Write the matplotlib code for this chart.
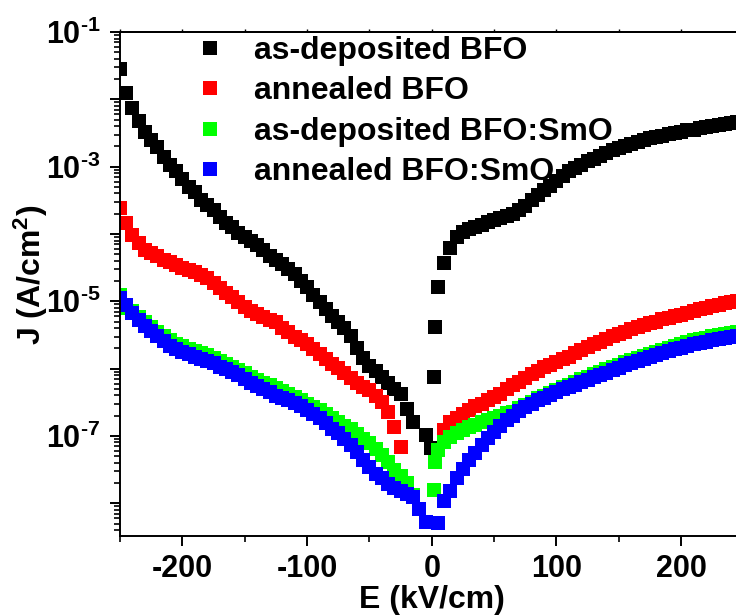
import numpy as np
import matplotlib
matplotlib.use("Agg")
import matplotlib.pyplot as plt
from matplotlib.ticker import FixedLocator, LogLocator, FuncFormatter, NullFormatter

plt.rcParams['font.family'] = ['Liberation Sans', 'DejaVu Sans']
plt.rcParams['font.weight'] = 'bold'
plt.rcParams['mathtext.fontset'] = 'custom'
plt.rcParams['mathtext.rm'] = 'Liberation Sans:bold'
plt.rcParams['mathtext.bf'] = 'Liberation Sans:bold'
plt.rcParams['mathtext.it'] = 'Liberation Sans:bold'
plt.rcParams['axes.unicode_minus'] = False

# Electric field grid (kV/cm), -250 ... 250 in steps of 5
E = np.arange(-250, 255, 5)
nan = np.nan

# log10 J (A/cm^2), one value per E (nan = no point)
logJ_asdep_BFO = [
    -1.55, -1.91, -2.13, -2.32, -2.49, -2.60, -2.71, -2.85, -2.98, -3.07,
    -3.18, -3.30, -3.38, -3.50, -3.57, -3.64, -3.75, -3.84, -3.90, -3.98,
    -4.05, -4.11, -4.17, -4.24, -4.32, -4.38, -4.45, -4.52, -4.60, -4.70,
    -4.79, -4.90, -5.01, -5.11, -5.22, -5.31, -5.39, -5.52, -5.69, -5.84,
    -5.96, -6.03, -6.13, -6.22, -6.31, -6.38, -6.60, -6.79, nan, -6.99,
    nan, -4.79, -4.43, -4.21, -4.05, -3.97, -3.93, -3.89, -3.86, -3.82,
    -3.79, -3.76, -3.73, -3.70, -3.65, -3.59, -3.50, -3.42, -3.35, -3.28,
    -3.21, -3.14, -3.07, -3.02, -2.97, -2.92, -2.88, -2.84, -2.80, -2.76,
    -2.73, -2.70, -2.67, -2.64, -2.61, -2.58, -2.56, -2.54, -2.52, -2.50,
    -2.48, -2.46, -2.45, -2.43, -2.41, -2.39, -2.38, -2.37, -2.35, -2.34,
    -2.33]
E_asdep_BFO_extra = [-1.0, 1.5, 3.0]
logJ_asdep_BFO_extra = [-7.18, -6.12, -5.38]

logJ_ann_BFO = [
    -3.62, -3.84, -4.01, -4.13, -4.24, -4.28, -4.33, -4.38, -4.42, -4.46,
    -4.50, -4.54, -4.57, -4.61, -4.66, -4.73, -4.80, -4.88, -4.94, -5.01,
    -5.08, -5.14, -5.19, -5.23, -5.28, -5.31, -5.39, -5.46, -5.53, -5.58,
    -5.64, -5.71, -5.79, -5.86, -5.93, -5.99, -6.06, -6.14, -6.21, -6.27,
    -6.32, -6.40, -6.50, -6.65, -6.87, -7.16, nan, nan, nan, nan,
    nan, nan, -6.91, -6.79, -6.74, -6.67, -6.61, -6.56, -6.52, -6.47,
    -6.42, -6.37, -6.30, -6.25, -6.20, -6.14, -6.08, -6.03, -5.98, -5.94,
    -5.90, -5.86, -5.82, -5.77, -5.72, -5.68, -5.64, -5.60, -5.56, -5.52,
    -5.48, -5.45, -5.41, -5.38, -5.35, -5.32, -5.30, -5.27, -5.25, -5.22,
    -5.20, -5.17, -5.15, -5.12, -5.10, -5.07, -5.05, -5.03, -5.01, -4.99,
    -4.97]

logJ_asdep_SmO = [
    -4.90, -5.10, -5.15, -5.23, -5.31, -5.38, -5.45, -5.52, -5.58, -5.63,
    -5.67, -5.71, -5.74, -5.77, -5.80, -5.84, -5.89, -5.93, -5.97, -6.02,
    -6.07, -6.12, -6.17, -6.21, -6.25, -6.29, -6.33, -6.37, -6.42, -6.47,
    -6.52, -6.57, -6.62, -6.68, -6.74, -6.80, -6.85, -6.90, -6.97, -7.04,
    -7.10, -7.20, -7.28, -7.38, -7.51, -7.60, -7.70, -7.88, nan, nan,
    nan, -7.21, -7.09, -7.01, -6.96, -6.91, -6.87, -6.83, -6.80, -6.76,
    -6.73, -6.70, -6.66, -6.64, -6.59, -6.54, -6.49, -6.44, -6.40, -6.36,
    -6.32, -6.27, -6.24, -6.20, -6.16, -6.12, -6.08, -6.05, -6.01, -5.97,
    -5.94, -5.90, -5.87, -5.84, -5.81, -5.78, -5.75, -5.72, -5.69, -5.66,
    -5.63, -5.61, -5.58, -5.56, -5.54, -5.52, -5.50, -5.48, -5.47, -5.45,
    -5.44]
E_asdep_SmO_extra = [1.5, 3.0]
logJ_asdep_SmO_extra = [-7.80, -7.39]

logJ_ann_SmO = [
    -4.95, -5.05, -5.18, -5.28, -5.36, -5.44, -5.51, -5.59, -5.66, -5.71,
    -5.75, -5.78, -5.82, -5.85, -5.88, -5.92, -5.97, -6.01, -6.05, -6.10,
    -6.16, -6.21, -6.26, -6.31, -6.35, -6.40, -6.44, -6.47, -6.51, -6.55,
    -6.61, -6.67, -6.74, -6.81, -6.89, -6.96, -7.04, -7.13, -7.24, -7.35,
    -7.46, -7.56, -7.63, -7.71, -7.77, -7.82, -7.86, -7.90, -8.08, -8.28,
    nan, -8.30, -7.97, -7.82, -7.63, -7.49, -7.36, -7.25, -7.13, -7.03,
    -6.94, -6.85, -6.77, -6.70, -6.63, -6.57, -6.52, -6.47, -6.43, -6.39,
    -6.35, -6.31, -6.28, -6.24, -6.20, -6.17, -6.13, -6.10, -6.06, -6.02,
    -5.99, -5.95, -5.92, -5.89, -5.86, -5.83, -5.80, -5.77, -5.74, -5.71,
    -5.69, -5.66, -5.64, -5.62, -5.60, -5.58, -5.56, -5.54, -5.53, -5.51,
    -5.50]

labels = ['as-deposited BFO', 'annealed BFO', 'as-deposited BFO:SmO', 'annealed BFO:SmO']
colors = ['#000000', '#ff0000', '#00ff00', '#0000ff']
x_ticks = [-200, -100, 0, 100, 200]
x_minor_ticks = [-250, -150, -50, 50, 150, 250]
top_ticks = [-250, -200, -150, -100, -50, 0, 50, 100, 150, 200, 250]


def series(logj, e_extra=(), l_extra=()):
    e = np.concatenate([E, np.asarray(e_extra, float)])
    l = np.concatenate([np.asarray(logj, float), np.asarray(l_extra, float)])
    order = np.argsort(e)
    e, l = e[order], l[order]
    m = ~np.isnan(l)
    return e[m], 10.0 ** l[m]


data = [
    series(logJ_asdep_BFO, E_asdep_BFO_extra, logJ_asdep_BFO_extra),
    series(logJ_ann_BFO),
    series(logJ_asdep_SmO, E_asdep_SmO_extra, logJ_asdep_SmO_extra),
    series(logJ_ann_SmO),
]

fig = plt.figure(figsize=(7.36, 6.15), dpi=100)
ax = fig.add_axes([120 / 736, 79 / 615, 623.5 / 736, 504 / 615])

for (x, y), c, lab in zip(data, colors, labels):
    ax.plot(x, y, linestyle='none', marker='s', markersize=9.6,
            markeredgewidth=0, color=c, label=lab)

ax.set_yscale('log')
ax.set_xlim(-250, 250)
ax.set_ylim(10 ** -8.486, 1e-1)

ax.xaxis.set_major_locator(FixedLocator(x_ticks))
ax.xaxis.set_minor_locator(FixedLocator(x_minor_ticks))
ax.yaxis.set_major_locator(LogLocator(base=10, numticks=20))
ax.yaxis.set_minor_locator(LogLocator(base=10, subs=np.arange(2, 10), numticks=20))
ax.yaxis.set_minor_formatter(NullFormatter())

HYPHEN = '\u2010'


def yfmt(v, pos):
    p = int(round(np.log10(v)))
    if p % 2 != 0:
        sign = HYPHEN if p < 0 else ''
        return '$\\mathbf{10^{%s%d}}$' % (sign, abs(p))
    return ''


ax.yaxis.set_major_formatter(FuncFormatter(yfmt))

for sp in ax.spines.values():
    sp.set_linewidth(1.4)
ax.spines['right'].set_visible(False)

ax.tick_params(axis='both', which='major', direction='out', length=7, width=1.4,
               labelsize=22)
ax.tick_params(axis='both', which='minor', direction='out', length=4, width=1.2)
ax.tick_params(axis='x', which='major', pad=6)
ax.tick_params(axis='y', which='major', pad=7)
ax.tick_params(top=False, right=False)
for lab in ax.get_xticklabels() + ax.get_yticklabels():
    lab.set_fontweight('bold')

sec = ax.secondary_xaxis('top')
sec.set_xticks(top_ticks)
sec.tick_params(direction='out', length=2.5, width=1.0, labeltop=False)
sec.spines['top'].set_linewidth(1.4)

ax.set_xlabel('E (kV/cm)', fontsize=23, fontweight='bold', labelpad=1)
ax.set_ylabel(r'J (A/cm$^{\mathbf{2}}$)', fontsize=23, fontweight='bold')
ax.yaxis.set_label_coords(-0.112, 0.518)

leg = ax.legend(loc='upper left', bbox_to_anchor=(0.108, 1.018), frameon=False,
                prop={'size': 23, 'weight': 'bold'}, handlelength=0.6,
                handletextpad=1.1, labelspacing=0.33, markerscale=1.0,
                borderaxespad=0, borderpad=0.4)

fig.savefig('out.png', dpi=100)
